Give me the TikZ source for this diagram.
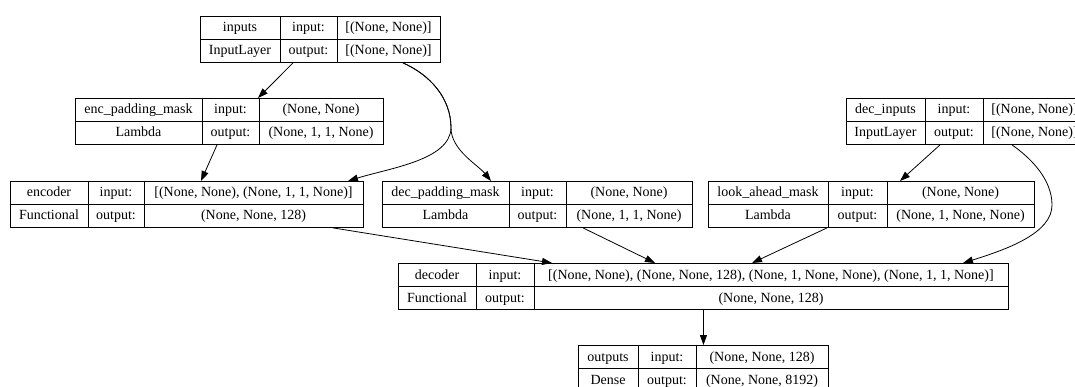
\documentclass[tikz,border=0pt]{standalone}
\usepackage{fontspec}
\setmainfont{Liberation Serif}
\usetikzlibrary{arrows.meta}

\tikzset{
	layerframe/.style = {draw, rectangle, inner sep=0pt, minimum height=46pt, line width=0.9pt},
	divider/.style = {line width=0.9pt},
	cell/.style = {inner sep=0pt, anchor=base, font=\fontsize{14}{16}\selectfont},
	link/.style = {line width=0.8pt, -{Triangle[length=10pt,width=7pt]}}
}

% #1 name, #2-#5 column edges, #6 top, #7 layer name, #8 class, #9 input shape, then output shape
\newcommand{\layerbox}[9]{%
	\def\lbname{#1}\def\lbxa{#2}\def\lbxb{#3}\def\lbxc{#4}\def\lbxd{#5}\def\lbtop{#6}%
	\def\lbtitle{#7}\def\lbclass{#8}\def\lbin{#9}%
	\layerboxdraw}
\newcommand{\layerboxdraw}[1]{%
	\pgfmathsetmacro\lbw{\lbxd-\lbxa}
	\node[layerframe, minimum width=\lbw pt, anchor=north west] (\lbname) at (\lbxa,\lbtop) {};
	\draw[divider] (\lbname.west) -- (\lbname.east);
	\draw[divider] (\lbxb,\lbtop) -- ++(0,46);
	\draw[divider] (\lbxc,\lbtop) -- ++(0,46);
	\node[cell] (\lbname-title) at ({(\lbxa+\lbxb)/2},{\lbtop+16}) {\lbtitle};
	\node[cell] (\lbname-class) at ({(\lbxa+\lbxb)/2},{\lbtop+39}) {\lbclass};
	\node[cell] (\lbname-inlab) at ({(\lbxb+\lbxc)/2},{\lbtop+16}) {input:};
	\node[cell] (\lbname-outlab) at ({(\lbxb+\lbxc)/2},{\lbtop+39}) {output:};
	\node[cell] (\lbname-inval) at ({(\lbxc+\lbxd)/2},{\lbtop+16}) {\lbin};
	\node[cell] (\lbname-outval) at ({(\lbxc+\lbxd)/2},{\lbtop+39}) {#1};
}

\begin{document}
\begin{tikzpicture}[x=1pt, y=-1pt]
	\useasboundingbox (0,0) rectangle (1075,387);
	\clip (0,0) rectangle (1075,387);
	% layers
	\layerbox{inputs}{200}{280}{337}{440}{16}{inputs}{InputLayer}{[(None, None)]}{[(None, None)]}
	\layerbox{encmask}{75}{202}{259}{383}{98}{enc\_padding\_mask}{Lambda}{(None, None)}{(None, 1, 1, None)}
	\layerbox{decinputs}{846}{925}{983}{1086}{98}{dec\_inputs}{InputLayer}{[(None, None)]}{[(None, None)]}
	\layerbox{encoder}{10}{88}{144}{363}{181}{encoder}{Functional}{[(None, None), (None, 1, 1, None)]}{(None, None, 128)}
	\layerbox{decmask}{382}{509}{566}{692}{181}{dec\_padding\_mask}{Lambda}{(None, None)}{(None, 1, 1, None)}
	\layerbox{lookahead}{708}{828}{887}{1034}{181}{look\_ahead\_mask}{Lambda}{(None, None)}{(None, 1, None, None)}
	\layerbox{decoder}{398}{476}{534}{1008}{263}{decoder}{Functional}{[(None, None), (None, None, 128), (None, 1, None, None), (None, 1, 1, None)]}{(None, None, 128)}
	\layerbox{outputs}{578}{638}{696}{828}{345}{outputs}{Dense}{(None, None, 128)}{(None, None, 8192)}
	% bends of the long edges
	\coordinate (inbend) at (451,128);
	\coordinate (decbend) at (1052,205);
	% edges
	\draw[link] ([xshift=93pt]inputs.south west) -- ([xshift=183pt]encmask.north west);
	\draw[link] ([xshift=203pt]inputs.south west) .. controls +(27,12) and +(0,-30) .. (inbend)
		.. controls +(-1,32) and +(42,-13) .. ([xshift=338pt]encoder.north west);
	\draw[link] ([xshift=203pt]inputs.south west) .. controls +(27,12) and +(0,-30) .. (inbend)
		.. controls +(0,22) and +(-13,-16) .. ([xshift=109pt]decmask.north west);
	\draw[link] ([xshift=142pt]encmask.south west) -- ([xshift=191pt]encoder.north west);
	\draw[link] ([xshift=94pt]decinputs.south west) -- ([xshift=192pt]lookahead.north west);
	\draw[link] ([xshift=166pt]decinputs.south west) .. controls +(20,14) and +(0,-25) .. (decbend)
		.. controls +(0,28) and +(45,-14) .. ([xshift=565pt]decoder.north west);
	\draw[link] ([xshift=323pt]encoder.south west) -- ([xshift=154pt]decoder.north west);
	\draw[link] ([xshift=201pt]decmask.south west) -- ([xshift=257pt]decoder.north west);
	\draw[link] ([xshift=119pt]lookahead.south west) -- ([xshift=354pt]decoder.north west);
	\draw[link] (decoder.south) -- (outputs.north);
\end{tikzpicture}
\end{document}
